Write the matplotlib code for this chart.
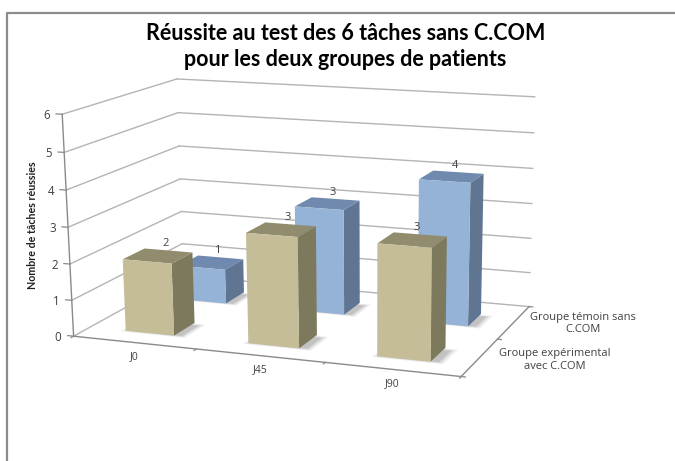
import numpy as np
import matplotlib
matplotlib.use("Agg")
import matplotlib.pyplot as plt
from matplotlib.lines import Line2D
from mpl_toolkits.mplot3d import proj3d
from mpl_toolkits.mplot3d.art3d import Poly3DCollection

# ---- data ----
title_lines = ["Réussite au test des 6 tâches sans C.COM", "pour les deux groupes de patients"]
categories = ["J0", "J45", "J90"]
series_names = ["Groupe expérimental\navec C.COM", "Groupe témoin sans\nC.COM"]
values_experimental = [2, 3, 3]
values_temoin = [1, 3, 4]
z_ticks = [0, 1, 2, 3, 4, 5, 6]
z_label = "Nombre de tâches réussies"

W, H = 675, 461
fig = plt.figure(figsize=(W / 100, H / 100), dpi=100, facecolor="white")
ax = fig.add_axes([0, 0, 1, 1], projection="3d", computed_zorder=False)
ax.set_position([0, 0, 1, 1])
ax.apply_aspect = lambda position=None, **k: None
ax.set_axis_off()
ax.patch.set_alpha(0)

# ---- camera fitted on the frame of the reference (data space -> pixels) ----
anchors_data = np.array([[0, 0, 0], [0, 0, 6], [0, 2, 0], [0, 2, 6],
                         [3, 2, 0], [3, 2, 6], [3, 0, 0]], float)
anchors_px = np.array([[73, 336], [63, 114], [184, 276], [176, 79],
                       [529, 306], [535, 97], [461, 377]], float)
rows = []
for (X, Y, Z), (u, v) in zip(anchors_data, anchors_px):
    rows.append([X, Y, Z, 1, 0, 0, 0, 0, -u * X, -u * Y, -u * Z, -u])
    rows.append([0, 0, 0, 0, X, Y, Z, 1, -v * X, -v * Y, -v * Z, -v])
P = np.linalg.svd(np.array(rows))[2][-1].reshape(3, 4)
if P[2, 3] < 0:
    P = -P
P = P / P[2, 3]
vl = ax.viewLim
x0, x1 = vl.intervalx
y0, y1 = vl.intervaly
sx, sy = (x1 - x0) / W, (y1 - y0) / H
A = np.array([[sx, 0, x0],
              [0, -sy, y1],
              [0, 0, 1]])
Q = A @ P
M = np.array([Q[0], Q[1], [0, 0, 0, -1], Q[2]])
ax.get_proj = lambda: M


def label(x, y, z, s, dx=0, dy=0, **kw):
    """Text anchored on a 3D data point, with an offset in pixels (dy > 0 is downwards)."""
    u, v, _ = proj3d.proj_transform(x, y, z, M)
    kw.setdefault("ha", "center")
    kw.setdefault("va", "center")
    kw.setdefault("color", "#404040")
    kw.setdefault("family", "Open Sans")
    kw.setdefault("zorder", 20)
    return ax.text2D(float(u) + dx * sx, float(v) - dy * sy, s, transform=ax.transData, **kw)


# ---- frame ----
grid_c = "#b4b4b4"
axis_c = "#8a8a8a"
n = len(categories)
depth = len(series_names)
for z in z_ticks:
    ax.plot([0, 0], [0, depth], [z, z], color=grid_c, lw=1.0, zorder=1)
    ax.plot([0, n], [depth, depth], [z, z], color=grid_c, lw=1.0, zorder=1)
    ax.plot([-0.05, 0], [0, 0], [z, z], color=axis_c, lw=0.9, zorder=1)
    label(0, 0, z, str(z), dx=-15.5, dy=1, fontsize=8.3)
ax.plot([0, 0], [0, 0], [0, z_ticks[-1]], color=axis_c, lw=1.0, zorder=1)
ax.plot([0, n], [0, 0], [0, 0], color=axis_c, lw=1.0, zorder=1)
ax.plot([n, n], [0, depth], [0, 0], color=axis_c, lw=1.0, zorder=1)
for i in range(n + 1):
    ax.plot([i, i], [-0.04, 0], [0, 0], color=axis_c, lw=0.9, zorder=1)
for j in range(depth + 1):
    ax.plot([n, n + 0.03], [j, j], [0, 0], color=axis_c, lw=0.9, zorder=1)

# ---- bars ----
bar_w, bar_d = 0.40, 0.38
x_off, y_off = 0.30, 0.27
NONE = (0, 0, 0, 0)
styles = [dict(front="#C4BD97", top="#918C6E", side="#7D795C"),
          dict(front="#95B3D7", top="#7089AE", side="#5F7592")]
all_values = [values_experimental, values_temoin]


def shadow(x, y, grow, alpha, zo):
    verts = [[(x - grow, y - grow, 0), (x + bar_w + 0.07 + grow, y - grow, 0),
              (x + bar_w + 0.07 + grow, y + bar_d - 0.05 + grow, 0), (x - grow, y + bar_d - 0.05 + grow, 0)]]
    ax.add_collection3d(Poly3DCollection(verts, facecolors=[(0.4, 0.4, 0.4, alpha)],
                                         edgecolors="none", linewidths=0, zorder=zo))


for j in reversed(range(depth)):
    st = styles[j]
    zo = 3 + (depth - j) * 2
    for i, val in enumerate(all_values[j]):
        x, y = i + x_off, j + y_off
        for g, a in ((0.03, 0.10), (0.01, 0.15), (-0.01, 0.2)):
            shadow(x, y, g, a, zo - 1)
        # faces order of bar3d: bottom, top, front(-y), back(+y), left(-x), right(+x)
        ax.bar3d(x, y, 0, bar_w, bar_d, val, shade=False,
                 color=[NONE, st["top"], st["front"], NONE, NONE, st["side"]],
                 edgecolor="none", linewidth=0, zorder=zo)
        label(x + bar_w / 2, y + bar_d, val, str(val), dx=-3, dy=-1, va="bottom", fontsize=8)

# ---- texts ----
for i, c in enumerate(categories):
    label(i + 0.5, 0, 0, c, dy=14.5, fontsize=7.5)
for j, (name, dx, dy) in enumerate(zip(series_names, (75, 69), (3, 1))):
    label(n, j + 0.5, 0, name, dx=dx, dy=dy, fontsize=8, linespacing=1.2)

fig.text(33 / W, 1 - 225 / H, z_label, rotation=90, ha="center", va="center",
         fontsize=7.7, fontweight="bold", color="#202020", family="Lato")
fig.text(345.5 / W, 1 - 33 / H, title_lines[0], ha="center", va="center", fontsize=15.5,
         fontweight="bold", color="black", family="Lato")
fig.text(345.5 / W, 1 - 59 / H, title_lines[1], ha="center", va="center", fontsize=15.5,
         fontweight="bold", color="black", family="Lato")

# ---- outer border ----
fig.add_artist(Line2D([6.5 / W, 6.5 / W, 1], [0, 1 - 13.5 / H, 1 - 13.5 / H],
                      transform=fig.transFigure, color="#8c8c8c", lw=1.6))

fig.savefig("out.png", dpi=100, facecolor="white")
